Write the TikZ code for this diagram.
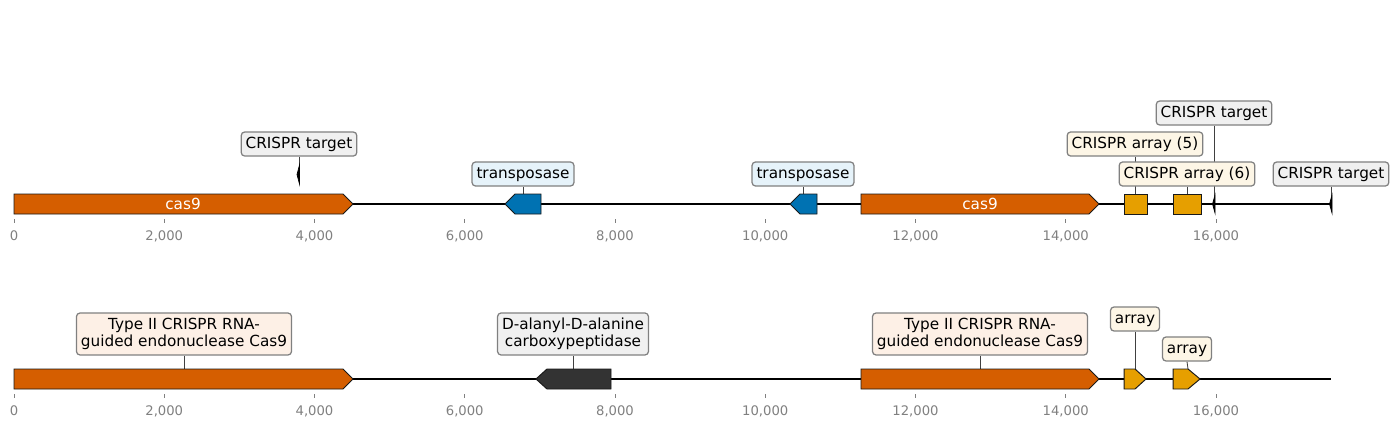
\documentclass[tikz,border=0pt]{standalone}
\usepackage{fontspec}
\setmainfont{DejaVu Sans}
\usetikzlibrary{backgrounds}
\definecolor{cverm}{HTML}{D55E00}
\definecolor{cblue}{HTML}{0072B2}
\definecolor{corange}{HTML}{E69F00}
\definecolor{cdark}{HTML}{333333}
\definecolor{fgray}{HTML}{F0F0F0}
\definecolor{fblue}{HTML}{E6F3FA}
\definecolor{forange}{HTML}{FDF0E6}
\definecolor{fcream}{HTML}{FDF6E6}
\definecolor{bedge}{HTML}{808080}
\definecolor{tickgray}{HTML}{808080}
\tikzset{
 lbl/.style={draw=bedge, line width=0.9pt, rounded corners=2.5pt, inner xsep=3.2pt, inner ysep=3.4pt, text height=8.2pt, text depth=2.3pt, font=\fontsize{11}{13}\selectfont},
 lbltwo/.style={draw=bedge, line width=0.9pt, rounded corners=2.5pt, inner xsep=3.2pt, inner ysep=3.4pt, minimum height=30.2pt, align=center, font=\fontsize{11}{12.5}\selectfont},
 feat/.style={draw=black!90, line width=0.7pt, line join=miter},
 tiny/.style={draw=black, fill=black, line width=0.5pt},
 conn/.style={draw=black!75, line width=0.6pt},
 backbone/.style={draw=black, line width=1.4pt},
 tickl/.style={font=\fontsize{9.5}{11}\selectfont, text=tickgray, inner sep=0pt},
 tickm/.style={draw=tickgray, line width=0.6pt},
 inlbl/.style={text=white, font=\fontsize{11}{13}\selectfont, inner sep=0pt},
}
\begin{document}
\begin{tikzpicture}[x=0.72pt,y=-0.72pt]
\useasboundingbox (0,0) rectangle (1394,428);
% ---------- axes ----------
\foreach \k/\t in {0/0,1/{2,000},2/{4,000},3/{6,000},4/{8,000},5/{10,000},6/{12,000},7/{14,000},8/{16,000}}{
  \pgfmathsetmacro{\xx}{14+150.25*\k}
  \draw[tickm] (\xx,219) -- (\xx,223);
  \node[tickl] (ta\k) at (\xx,236) {\t};
  \draw[tickm] (\xx,394) -- (\xx,398);
  \node[tickl] (tb\k) at (\xx,411) {\t};
}
% ---------- backbones ----------
\coordinate (bA0) at (14,204);
\coordinate (bA1) at (1331,204);
\coordinate (bB0) at (14,379);
\coordinate (bB1) at (1331,379);
\draw[backbone] (bA0) -- (bA1);
\draw[backbone] (bB0) -- (bB1);
% ---------- top track features ----------
\draw[feat, fill=cverm] (14,194) -- (343,194) -- (353,204) -- (343,214) -- (14,214) -- cycle;
\draw[feat, fill=cverm] (861,194) -- (1089,194) -- (1099,204) -- (1089,214) -- (861,214) -- cycle;
\draw[feat, fill=cblue] (541,194) -- (515,194) -- (505,204) -- (515,214) -- (541,214) -- cycle;
\draw[feat, fill=cblue] (817,194) -- (800,194) -- (790,204) -- (800,214) -- (817,214) -- cycle;
\draw[feat, fill=corange] (1124,194) rectangle (1147,214);
\draw[feat, fill=corange] (1173,194) rectangle (1201,214);
\draw[tiny] (299.5,165) -- (297,174.5) -- (299.5,184) -- cycle;
\draw[tiny] (1215,195) -- (1212.5,204) -- (1215,213) -- cycle;
\draw[tiny] (1332,195) -- (1329.5,204) -- (1332,213) -- cycle;
\node[inlbl] (cas9a) at (183,204) {cas9};
\node[inlbl] (cas9b) at (980,204) {cas9};
\coordinate (fA1) at (299,165);
\coordinate (fA2) at (523,194);
\coordinate (fA3) at (803,194);
\coordinate (fA4) at (1135,194);
\coordinate (fA5) at (1187,194);
\coordinate (fA6) at (1214,196);
\coordinate (fA7) at (1331,196);
% ---------- bottom track features ----------
\draw[feat, fill=cverm] (14,369) -- (343,369) -- (353,379) -- (343,389) -- (14,389) -- cycle;
\draw[feat, fill=cverm] (861,369) -- (1089,369) -- (1099,379) -- (1089,389) -- (861,389) -- cycle;
\draw[feat, fill=cdark] (611,369) -- (547,369) -- (536,379) -- (547,389) -- (611,389) -- cycle;
\draw[feat, fill=corange] (1124,369) -- (1135,369) -- (1146,379) -- (1135,389) -- (1124,389) -- cycle;
\draw[feat, fill=corange] (1173,369) -- (1188,369) -- (1200,379) -- (1188,389) -- (1173,389) -- cycle;
\coordinate (fB1) at (184,369);
\coordinate (fB2) at (573,369);
\coordinate (fB3) at (980,369);
\coordinate (fB4) at (1135,369);
\coordinate (fB5) at (1188,369);
% ---------- labels ----------
\node[lbl, fill=fgray] (lA1) at (299,144) {CRISPR target};
\node[lbl, fill=fblue] (lA2) at (523,174) {transposase};
\node[lbl, fill=fblue] (lA3) at (803,174) {transposase};
\node[lbl, fill=fcream] (lA4) at (1135,144) {CRISPR array (5)};
\node[lbl, fill=fcream] (lA5) at (1187,174) {CRISPR array (6)};
\node[lbl, fill=fgray] (lA6) at (1214,113) {CRISPR target};
\node[lbl, fill=fgray] (lA7) at (1331,174) {CRISPR target};
\node[lbltwo, fill=forange] (lB1) at (184,334) {Type II CRISPR RNA-\\guided endonuclease Cas9};
\node[lbltwo, fill=fgray] (lB2) at (573,334) {D-alanyl-D-alanine\\carboxypeptidase};
\node[lbltwo, fill=forange] (lB3) at (980,334) {Type II CRISPR RNA-\\guided endonuclease Cas9};
\node[lbl, fill=fcream] (lB4) at (1135,319) {array};
\node[lbl, fill=fcream] (lB5) at (1187,349) {array};
% ---------- connectors ----------
\begin{scope}[on background layer]
\draw[conn] (lA1.south) -- (fA1);
\draw[conn] (lA2.south) -- (fA2);
\draw[conn] (lA3.south) -- (fA3);
\draw[conn] (lA4.south) -- (fA4);
\draw[conn] (lA5.south) -- (fA5);
\draw[conn] (lA6.south) -- (fA6);
\draw[conn] (lA7.south) -- (fA7);
\draw[conn] (lB1.south) -- (fB1);
\draw[conn] (lB2.south) -- (fB2);
\draw[conn] (lB3.south) -- (fB3);
\draw[conn] (lB4.south) -- (fB4);
\draw[conn] (lB5.south) -- (fB5);
\end{scope}
\end{tikzpicture}
\end{document}
